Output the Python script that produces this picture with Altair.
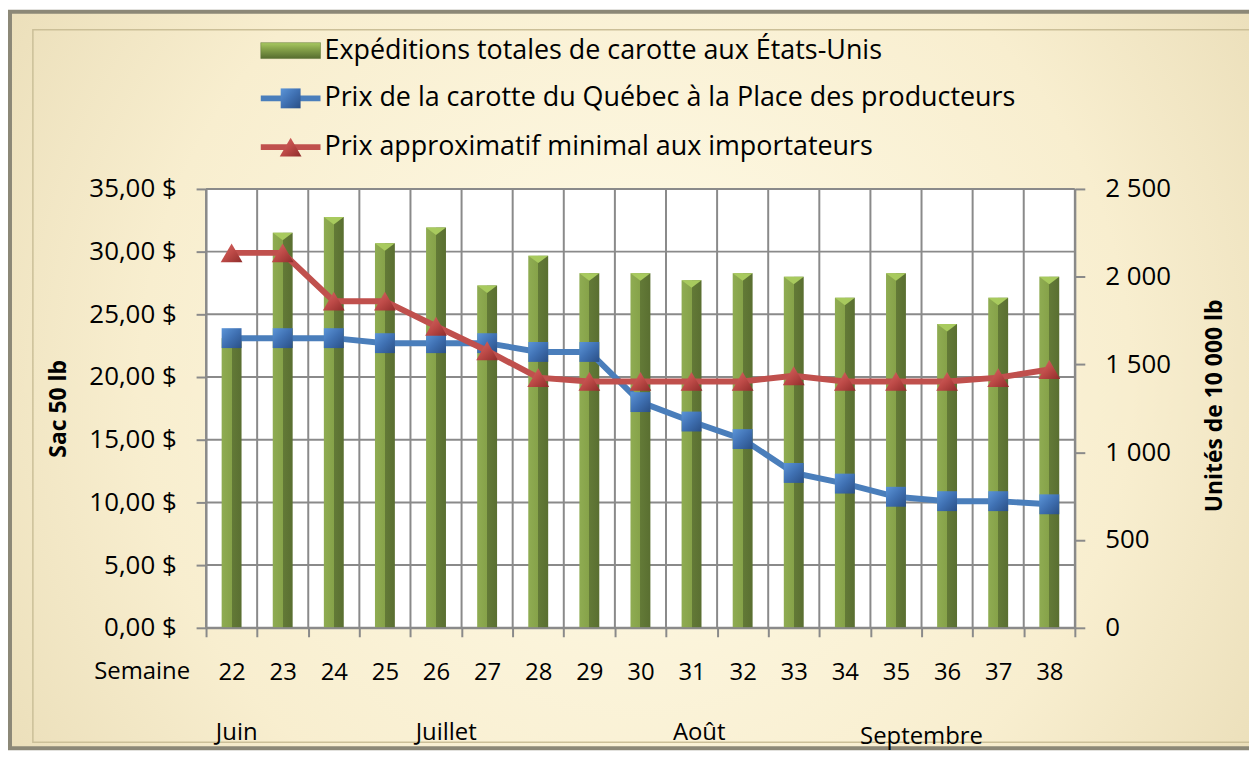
import altair as alt
import pandas as pd

# ---------------- data ----------------
weeks = list(range(22, 39))
shipments = [1650, 2250, 2340, 2190, 2280, 1950, 2120, 2020, 2020, 1980, 2020, 2000, 1880, 2020, 1730, 1880, 2000]
quebec_price = [23.1, 23.1, 23.1, 22.7, 22.7, 22.7, 22.0, 22.0, 18.0, 16.45, 15.05, 12.35, 11.5, 10.45, 10.1, 10.1, 9.85]
import_price = [29.9, 29.9, 26.05, 26.05, 24.05, 22.1, 19.95, 19.65, 19.65, 19.65, 19.65, 20.1, 19.65, 19.65, 19.65, 19.95, 20.6]
price_ticks = [0, 5, 10, 15, 20, 25, 30, 35]
ship_ticks = [0, 500, 1000, 1500, 2000, 2500]
series_names = [
    "Expéditions totales de carotte aux États-Unis",
    "Prix de la carotte du Québec à la Place des producteurs",
    "Prix approximatif minimal aux importateurs",
]
months = ["Juin", "Juillet", "Août", "Septembre"]
month_week = [22.1, 26.2, 31.15, 35.5]
axis_titles = ["Sac 50 lb", "Unités de 10 000 lb"]
x_caption = "Semaine"

# ---------------- layout ----------------
W, H = 873, 441
PAD = {"left": 199, "top": 180, "right": 175, "bottom": 125}
FONT = "'Open Sans', Lato, sans-serif"
FS = 24
FSY = 26
FSL = 27
GRID = "#8a8a8a"

df = pd.DataFrame({"week": weeks, "shipments": shipments,
                   "quebec": quebec_price, "imp": import_price})
bounds = pd.DataFrame({"b": [w - 0.5 for w in weeks] + [weeks[-1] + 0.5]})
hgrid_df = pd.DataFrame({"v": price_ticks})
months_df = pd.DataFrame({"month": months, "pos": month_week})
one = pd.DataFrame({"k": [0]})

qx = alt.Scale(domain=[weeks[0] - 0.5, weeks[-1] + 0.5], nice=False, zero=False)

# gradients
bg_grad = {"gradient": "radial", "x1": 0.5, "y1": 0.5, "r1": 0, "x2": 0.5, "y2": 0.5, "r2": 0.72,
           "stops": [{"offset": 0, "color": "#fffbe8"}, {"offset": 0.55, "color": "#f8eecf"},
                     {"offset": 1, "color": "#e2d4ab"}]}
bar_grad = {"gradient": "linear", "x1": 0, "y1": 0, "x2": 1, "y2": 0,
            "stops": [{"offset": 0, "color": "#8fac52"}, {"offset": 0.5, "color": "#86a249"},
                      {"offset": 0.5, "color": "#637a37"}, {"offset": 1, "color": "#5a6f31"}]}
leg_bar_grad = {"gradient": "linear", "x1": 0, "y1": 0, "x2": 0, "y2": 1,
                "stops": [{"offset": 0, "color": "#a9c962"}, {"offset": 0.35, "color": "#8aa74c"},
                          {"offset": 1, "color": "#566c2f"}]}
blue_grad = {"gradient": "linear", "x1": 0, "y1": 0, "x2": 1, "y2": 1,
             "stops": [{"offset": 0, "color": "#5c95d8"}, {"offset": 0.5, "color": "#3f70b2"},
                       {"offset": 1, "color": "#2a4f85"}]}
red_grad = {"gradient": "linear", "x1": 0, "y1": 0, "x2": 1, "y2": 1,
            "stops": [{"offset": 0, "color": "#d86a66"}, {"offset": 0.5, "color": "#bd4a47"},
                      {"offset": 1, "color": "#8e2c2a"}]}

# ---------------- background & frame ----------------
frame = alt.Chart(one).mark_rect(fill=bg_grad, stroke="#8c8877", strokeWidth=4).encode(
    x=alt.value(-197), x2=alt.value(1060), y=alt.value(-178), y2=alt.value(562))
inner = alt.Chart(one).mark_rect(fill=None, stroke="#cbbf98", strokeWidth=1.5).encode(
    x=alt.value(-174), x2=alt.value(1060), y=alt.value(-160), y2=alt.value(556))
plotbg = alt.Chart(one).mark_rect(fill="white").encode(
    x=alt.value(0), x2=alt.value(W), y=alt.value(0), y2=alt.value(H))

vgrid = alt.Chart(bounds).mark_rule(color=GRID, strokeWidth=2).encode(
    x=alt.X("b:Q", scale=qx, axis=None), y=alt.value(0), y2=alt.value(H))
hgrid = alt.Chart(hgrid_df).mark_rule(color=GRID, strokeWidth=2).encode(
    y=alt.Y("v:Q", scale=alt.Scale(domain=[0, 35], nice=False), axis=None))

AX = dict(labelFont=FONT, titleFont=FONT, labelColor="black", titleColor="black",
          domainColor=GRID, domainWidth=2, tickColor=GRID, tickWidth=2, grid=False, zindex=1)

# ---------------- bars (right axis) ----------------
xb = alt.X("week:O", scale=alt.Scale(type="band", paddingInner=0, paddingOuter=0),
           axis=alt.Axis(title=None, labelAngle=0, labelFontSize=FS, labelPadding=24,
                         tickSize=9, tickBand="extent", **AX))
yb = alt.Y("shipments:Q", scale=alt.Scale(domain=[0, 2500], nice=False),
           axis=alt.Axis(orient="right", values=ship_ticks,
                         labelExpr="replace(format(datum.value, ','), ',', ' ')",
                         labelFontSize=FSY, labelPadding=20, tickSize=10, labelAlign="left",
                         title=axis_titles[1], titleFontSize=23, titleFontWeight="bold",
                         titleAngle=270, titleX=147, titleY=H / 2 - 3, titleAlign="center",
                         titleBaseline="alphabetic", **AX))
bars = alt.Chart(df).mark_bar(size=20, fill=bar_grad, strokeWidth=0).encode(x=xb, y=yb)
caps = alt.Chart(df).mark_point(shape="M-1,0L1,0L0,0.75Z", size=400, filled=True,
                                fill="#a8ca5e", opacity=1, strokeWidth=0).encode(x=xb, y=yb)
bar_layer = alt.layer(bars, caps)

# ---------------- price lines (left axis) ----------------
xp = alt.X("week:O", scale=alt.Scale(type="point", padding=0.5), axis=None)
yaxis_left = alt.Axis(orient="left", values=price_ticks,
                      labelExpr="replace(format(datum.value, '.2f'), '.', ',') + ' $'",
                      labelFontSize=FSY, labelPadding=20, tickSize=10,
                      title=axis_titles[0], titleFontSize=23, titleFontWeight="bold",
                      titleAngle=270, titleX=-141, titleY=H / 2, titleAlign="center",
                      titleBaseline="alphabetic", **AX)
pscale = alt.Scale(domain=[0, 35], nice=False)
y_q = alt.Y("quebec:Q", scale=pscale, axis=yaxis_left)
y_i = alt.Y("imp:Q", scale=pscale, axis=yaxis_left)

blue_line = alt.Chart(df).mark_line(color="#4a7ebb", strokeWidth=6).encode(x=xp, y=y_q)
blue_pts = alt.Chart(df).mark_point(shape="square", size=400, filled=True, fill=blue_grad,
                                    opacity=1, strokeWidth=0).encode(x=xp, y=y_q)
red_line = alt.Chart(df).mark_line(color="#c0504d", strokeWidth=6).encode(x=xp, y=y_i)
red_pts = alt.Chart(df).mark_point(shape="triangle-up", size=480, filled=True, fill=red_grad,
                                   opacity=1, strokeWidth=0).encode(x=xp, y=y_i)
price_layer = alt.layer(blue_line, blue_pts, red_line, red_pts)

# ---------------- legend ----------------
LX0, LX1, LXC, LTX = 55, 115, 85, 119
rows_y = [-139, -91, -42]
leg_rect = alt.Chart(one).mark_rect(fill=leg_bar_grad, stroke="#5d7434", strokeWidth=0.5).encode(
    x=alt.value(LX0), x2=alt.value(LX1), y=alt.value(rows_y[0] - 8), y2=alt.value(rows_y[0] + 8))
leg_bline = alt.Chart(one).mark_rule(color="#4a7ebb", strokeWidth=6).encode(
    x=alt.value(LX0), x2=alt.value(LX1), y=alt.value(rows_y[1]))
leg_bpt = alt.Chart(one).mark_point(shape="square", size=400, filled=True, fill=blue_grad,
                                    opacity=1, strokeWidth=0).encode(
    x=alt.value(LXC), y=alt.value(rows_y[1]))
leg_rline = alt.Chart(one).mark_rule(color="#c0504d", strokeWidth=6).encode(
    x=alt.value(LX0), x2=alt.value(LX1), y=alt.value(rows_y[2]))
leg_rpt = alt.Chart(one).mark_point(shape="triangle-up", size=480, filled=True, fill=red_grad,
                                    opacity=1, strokeWidth=0).encode(
    x=alt.value(LXC), y=alt.value(rows_y[2]))
leg_texts = [
    alt.Chart(one).mark_text(align="left", baseline="middle", fontSize=FSL, font=FONT,
                             color="black").encode(
        x=alt.value(LTX), y=alt.value(yy), text=alt.value(name))
    for name, yy in zip(series_names, rows_y)
]

# ---------------- other texts ----------------
semaine = alt.Chart(one).mark_text(align="right", baseline="middle", fontSize=FS, font=FONT,
                                   color="black").encode(
    x=alt.value(-16), y=alt.value(485), text=alt.value(x_caption))
month_a = alt.Chart(months_df).transform_filter(alt.datum.month != "Septembre").mark_text(
    align="center", baseline="middle", fontSize=FS, font=FONT, color="black").encode(
    x=alt.X("pos:Q", scale=qx, axis=None), y=alt.value(547), text="month:N")
month_b = alt.Chart(months_df).transform_filter(alt.datum.month == "Septembre").mark_text(
    align="center", baseline="middle", fontSize=FS, font=FONT, color="black").encode(
    x=alt.X("pos:Q", scale=qx, axis=None), y=alt.value(551), text="month:N")

chart = alt.layer(
    frame, inner, plotbg, vgrid, hgrid, bar_layer, price_layer,
    leg_rect, leg_bline, leg_bpt, leg_rline, leg_rpt, *leg_texts,
    semaine, month_a, month_b,
).resolve_scale(x="independent", y="independent").properties(
    width=W, height=H, padding=PAD, autosize=alt.AutoSizeParams(type="none"),
    background="white",
).configure_view(strokeWidth=0)

chart.save("out.html", embed_options={"renderer": "svg", "actions": False})
